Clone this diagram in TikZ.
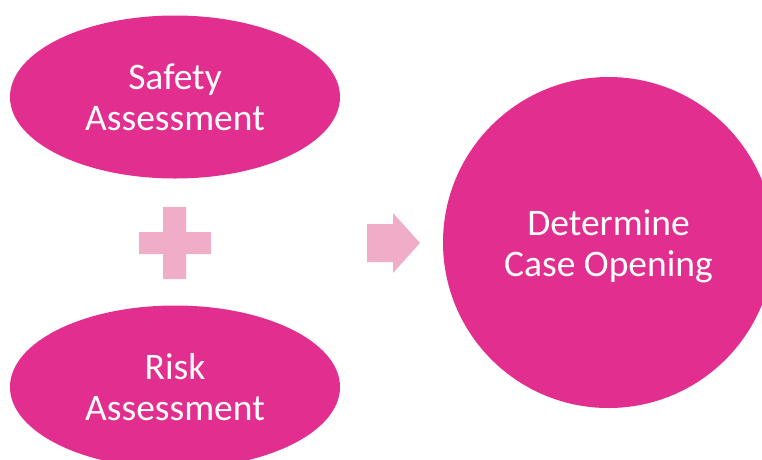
\documentclass[tikz,border=0pt]{standalone}
\usepackage{fontspec}
\setmainfont{Carlito}
\usetikzlibrary{shapes.geometric}
\definecolor{mag}{HTML}{E22E8F}
\definecolor{lpink}{HTML}{F0ADC8}
\tikzset{
  lbl/.style={text=white, align=center, font=\fontsize{37.5}{41}\selectfont, inner sep=0pt},
  blob/.style={lbl, fill=mag, draw=none},
  oval/.style={blob, ellipse, minimum width=330pt, minimum height=163pt},
  bigcircle/.style={fill=mag, draw=none, circle, minimum size=331pt, inner sep=0pt},
  sym/.style={fill=lpink, draw=none}
}
\begin{document}
\begin{tikzpicture}[x=1pt,y=-1pt]
\useasboundingbox (0,0) rectangle (762,459);
\clip (0,0) rectangle (762,459);
\node[oval] (safety) at (175,97) {Safety\\Assessment};
\node[oval] (risk) at (175,387) {Risk\\Assessment};
\node[bigcircle] (open) at (608.5,242.5) {};
\node[lbl] (opentext) at ([yshift=-4pt]open.center) {Determine\\Case Opening};
% plus sign
\fill[sym] (163,207) -- (186,207) -- (186,232) -- (211,232) -- (211,254) -- (186,254)
  -- (186,279) -- (163,279) -- (163,254) -- (139,254) -- (139,232) -- (163,232) -- cycle;
% arrow
\fill[sym] (367,224) -- (393,224) -- (393,213) -- (420,243) -- (393,273) -- (393,262)
  -- (367,262) -- cycle;
\end{tikzpicture}
\end{document}
